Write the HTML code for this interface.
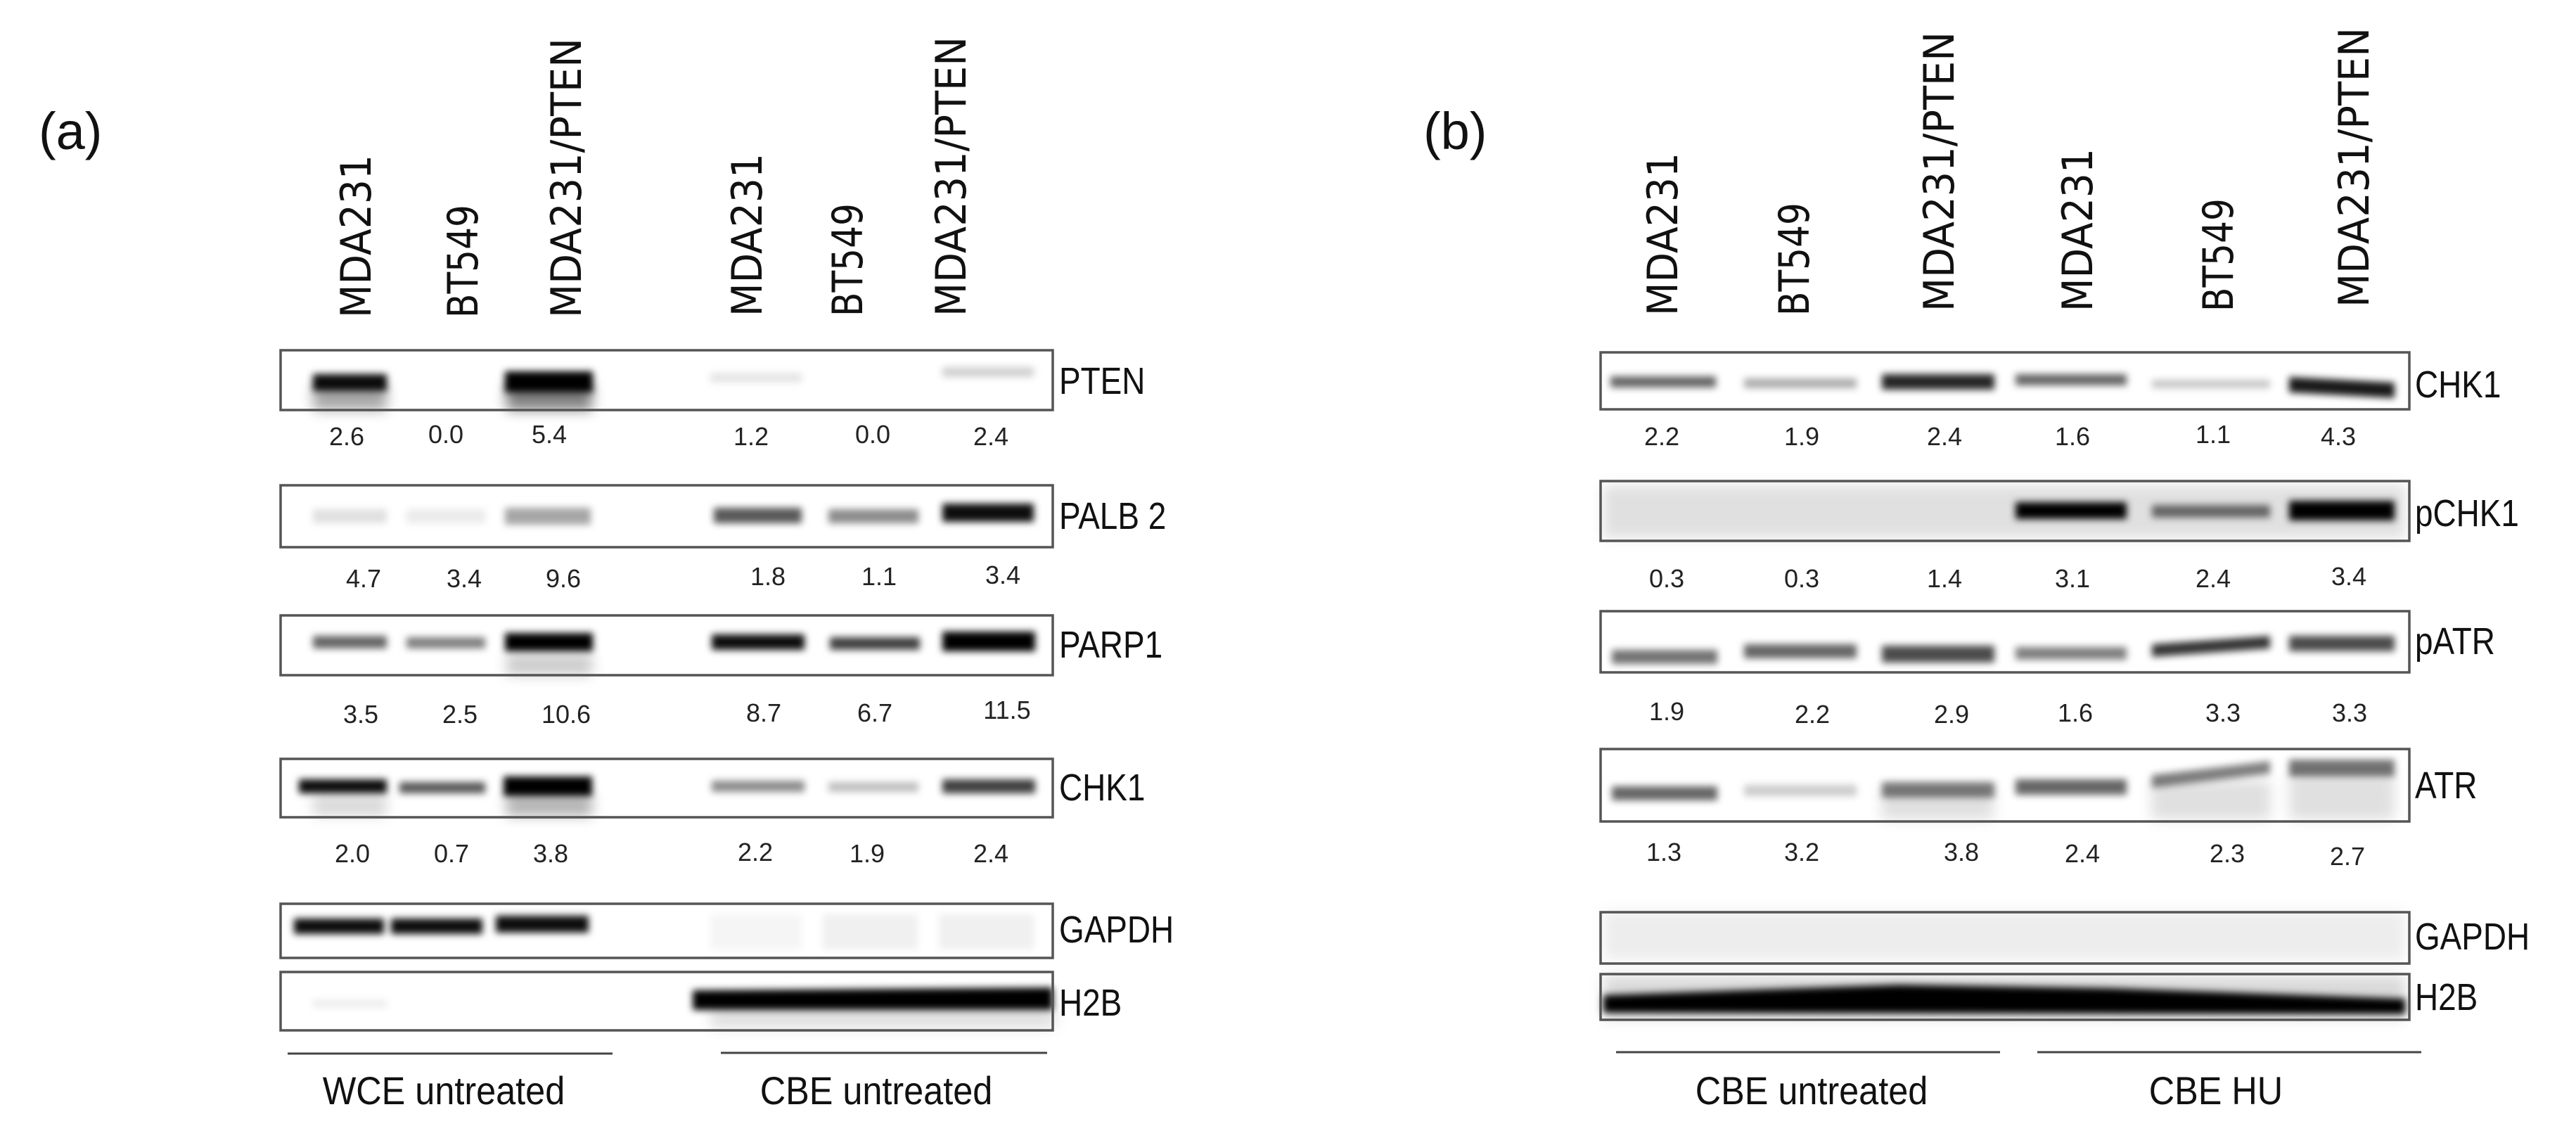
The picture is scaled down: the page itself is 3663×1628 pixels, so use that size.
<!DOCTYPE html>
<html><head><meta charset="utf-8"><style>html,body{margin:0;padding:0;background:#fff}svg{display:block}</style></head><body>
<svg width="3663" height="1628" viewBox="0 0 3663 1628" xmlns="http://www.w3.org/2000/svg">
<defs>
<filter id="b" x="-20%" y="-100%" width="140%" height="300%"><feGaussianBlur stdDeviation="5"/></filter>
<filter id="s" x="-20%" y="-100%" width="140%" height="300%"><feGaussianBlur stdDeviation="9"/></filter>
</defs>
<rect width="3663" height="1628" fill="#fff"/>
<g font-family="Liberation Sans, sans-serif" fill="#111">
<text x="55" y="212" font-size="74">(a)</text>
<text x="2024" y="212" font-size="74">(b)</text>
</g>
<!-- lane labels -->
<g font-family="DejaVu Sans, sans-serif" font-size="60" fill="#111" lengthAdjust="spacingAndGlyphs">
<text transform="translate(527,452) rotate(-90)" textLength="232" lengthAdjust="spacingAndGlyphs">MDA231</text>
<text transform="translate(679,452) rotate(-90)" textLength="161" lengthAdjust="spacingAndGlyphs">BT549</text>
<text transform="translate(826,452) rotate(-90)" textLength="398" lengthAdjust="spacingAndGlyphs">MDA231/PTEN</text>
<text transform="translate(1083,450) rotate(-90)" textLength="232" lengthAdjust="spacingAndGlyphs">MDA231</text>
<text transform="translate(1226,450) rotate(-90)" textLength="161" lengthAdjust="spacingAndGlyphs">BT549</text>
<text transform="translate(1373,450) rotate(-90)" textLength="398" lengthAdjust="spacingAndGlyphs">MDA231/PTEN</text>
<text transform="translate(2385,449) rotate(-90)" textLength="232" lengthAdjust="spacingAndGlyphs">MDA231</text>
<text transform="translate(2572,449) rotate(-90)" textLength="161" lengthAdjust="spacingAndGlyphs">BT549</text>
<text transform="translate(2778,443) rotate(-90)" textLength="398" lengthAdjust="spacingAndGlyphs">MDA231/PTEN</text>
<text transform="translate(2975,443) rotate(-90)" textLength="232" lengthAdjust="spacingAndGlyphs">MDA231</text>
<text transform="translate(3175,443) rotate(-90)" textLength="161" lengthAdjust="spacingAndGlyphs">BT549</text>
<text transform="translate(3368,437) rotate(-90)" textLength="398" lengthAdjust="spacingAndGlyphs">MDA231/PTEN</text>
</g>

<!-- PANEL A bands -->
<g filter="url(#s)">
<rect x="445" y="545" width="105" height="38" fill="#000" opacity="0.35"/>
<rect x="720" y="545" width="122" height="38" fill="#000" opacity="0.5"/>
<rect x="720" y="930" width="122" height="30" fill="#000" opacity="0.2"/>
<rect x="445" y="1130" width="105" height="30" fill="#000" opacity="0.15"/>
<rect x="720" y="1130" width="122" height="30" fill="#000" opacity="0.3"/>
<rect x="1010" y="1432" width="490" height="30" fill="#000" opacity="0.12"/>
</g>
<g filter="url(#b)">
<rect x="445" y="532" width="105" height="24" fill="#000" opacity="0.95"/>
<rect x="718" y="528" width="125" height="30" fill="#000" opacity="1"/>
<rect x="1010" y="530" width="130" height="14" fill="#000" opacity="0.1"/>
<rect x="1340" y="522" width="130" height="14" fill="#000" opacity="0.18"/>
<rect x="445" y="724" width="105" height="20" fill="#000" opacity="0.12"/>
<rect x="578" y="724" width="112" height="20" fill="#000" opacity="0.08"/>
<rect x="718" y="722" width="122" height="24" fill="#000" opacity="0.35"/>
<rect x="1015" y="722" width="125" height="22" fill="#000" opacity="0.65"/>
<rect x="1178" y="724" width="128" height="20" fill="#000" opacity="0.45"/>
<rect x="1340" y="716" width="130" height="26" fill="#000" opacity="0.95"/>
<rect x="445" y="904" width="105" height="18" fill="#000" opacity="0.6"/>
<rect x="578" y="906" width="112" height="16" fill="#000" opacity="0.5"/>
<rect x="718" y="900" width="125" height="26" fill="#000" opacity="1"/>
<rect x="1012" y="902" width="132" height="22" fill="#000" opacity="0.95"/>
<rect x="1180" y="906" width="128" height="18" fill="#000" opacity="0.75"/>
<rect x="1340" y="898" width="132" height="28" fill="#000" opacity="1"/>
<rect x="425" y="1108" width="125" height="20" fill="#000" opacity="0.95"/>
<rect x="568" y="1112" width="122" height="16" fill="#000" opacity="0.65"/>
<rect x="716" y="1104" width="126" height="28" fill="#000" opacity="1"/>
<rect x="1012" y="1110" width="132" height="16" fill="#000" opacity="0.45"/>
<rect x="1178" y="1112" width="128" height="14" fill="#000" opacity="0.25"/>
<rect x="1340" y="1108" width="132" height="20" fill="#000" opacity="0.75"/>
<rect x="418" y="1306" width="128" height="22" fill="#000" opacity="0.95"/>
<rect x="556" y="1306" width="130" height="22" fill="#000" opacity="0.95"/>
<rect x="705" y="1302" width="132" height="24" fill="#000" opacity="0.95"/>
<rect x="1010" y="1300" width="130" height="50" fill="#000" opacity="0.04"/>
<rect x="1170" y="1300" width="135" height="50" fill="#000" opacity="0.06"/>
<rect x="1335" y="1300" width="135" height="50" fill="#000" opacity="0.06"/>
<rect x="445" y="1422" width="105" height="10" fill="#000" opacity="0.08"/>
<path d="M985 1408 L1497 1404 L1497 1436 L985 1436 Z" fill="#000" opacity="1"/>
</g>
<g fill="none" stroke="#555" stroke-width="3.5">
<rect x="399" y="498" width="1098" height="85"/>
<rect x="399" y="690" width="1098" height="88"/>
<rect x="399" y="875" width="1098" height="85"/>
<rect x="399" y="1079" width="1098" height="83"/>
<rect x="399" y="1285" width="1098" height="77"/>
<rect x="399" y="1382" width="1098" height="83"/>
</g>
<g font-family="Liberation Sans, sans-serif" font-size="54" fill="#111">
<text x="1506" y="560" transform="translate(1506 0) scale(0.85 1) translate(-1506 0)">PTEN</text>
<text x="1506" y="752" transform="translate(1506 0) scale(0.85 1) translate(-1506 0)">PALB 2</text>
<text x="1506" y="935" transform="translate(1506 0) scale(0.85 1) translate(-1506 0)">PARP1</text>
<text x="1506" y="1138" transform="translate(1506 0) scale(0.85 1) translate(-1506 0)">CHK1</text>
<text x="1506" y="1340" transform="translate(1506 0) scale(0.85 1) translate(-1506 0)">GAPDH</text>
<text x="1506" y="1444" transform="translate(1506 0) scale(0.85 1) translate(-1506 0)">H2B</text>
<text x="3434" y="565" transform="translate(3434 0) scale(0.85 1) translate(-3434 0)">CHK1</text>
<text x="3434" y="748" transform="translate(3434 0) scale(0.85 1) translate(-3434 0)">pCHK1</text>
<text x="3434" y="930" transform="translate(3434 0) scale(0.85 1) translate(-3434 0)">pATR</text>
<text x="3434" y="1135" transform="translate(3434 0) scale(0.85 1) translate(-3434 0)">ATR</text>
<text x="3434" y="1350" transform="translate(3434 0) scale(0.85 1) translate(-3434 0)">GAPDH</text>
<text x="3434" y="1436" transform="translate(3434 0) scale(0.85 1) translate(-3434 0)">H2B</text>
</g>
<g font-family="Liberation Sans, sans-serif" font-size="36" fill="#222" text-anchor="middle">
<text x="493" y="633">2.6</text><text x="634" y="630">0.0</text><text x="781" y="630">5.4</text><text x="1068" y="633">1.2</text><text x="1241" y="630">0.0</text><text x="1409" y="633">2.4</text>
<text x="517" y="835">4.7</text><text x="660" y="835">3.4</text><text x="801" y="835">9.6</text><text x="1092" y="832">1.8</text><text x="1250" y="832">1.1</text><text x="1426" y="830">3.4</text>
<text x="513" y="1028">3.5</text><text x="654" y="1028">2.5</text><text x="805" y="1028">10.6</text><text x="1086" y="1026">8.7</text><text x="1244" y="1026">6.7</text><text x="1432" y="1022">11.5</text>
<text x="501" y="1226">2.0</text><text x="642" y="1226">0.7</text><text x="783" y="1226">3.8</text><text x="1074" y="1224">2.2</text><text x="1233" y="1226">1.9</text><text x="1409" y="1226">2.4</text>
<text x="2363" y="633">2.2</text><text x="2562" y="633">1.9</text><text x="2765" y="633">2.4</text><text x="2947" y="633">1.6</text><text x="3147" y="630">1.1</text><text x="3325" y="633">4.3</text>
<text x="2370" y="835">0.3</text><text x="2562" y="835">0.3</text><text x="2765" y="835">1.4</text><text x="2947" y="835">3.1</text><text x="3147" y="835">2.4</text><text x="3340" y="832">3.4</text>
<text x="2370" y="1024">1.9</text><text x="2577" y="1028">2.2</text><text x="2775" y="1028">2.9</text><text x="2951" y="1026">1.6</text><text x="3161" y="1026">3.3</text><text x="3341" y="1026">3.3</text>
<text x="2366" y="1224">1.3</text><text x="2562" y="1224">3.2</text><text x="2789" y="1224">3.8</text><text x="2961" y="1226">2.4</text><text x="3167" y="1226">2.3</text><text x="3338" y="1230">2.7</text>
</g>
<g stroke="#444" stroke-width="3">
<line x1="409" y1="1498" x2="871" y2="1498"/>
<line x1="1025" y1="1497" x2="1489" y2="1497"/>
<line x1="2298" y1="1496" x2="2844" y2="1496"/>
<line x1="2897" y1="1496" x2="3443" y2="1496"/>
</g>
<g font-family="Liberation Sans, sans-serif" font-size="56" fill="#111" text-anchor="middle">
<text x="631" y="1570" transform="translate(631 0) scale(0.9 1) translate(-631 0)">WCE untreated</text>
<text x="1246" y="1570" transform="translate(1246 0) scale(0.9 1) translate(-1246 0)">CBE untreated</text>
<text x="2576" y="1570" transform="translate(2576 0) scale(0.9 1) translate(-2576 0)">CBE untreated</text>
<text x="3151" y="1570" transform="translate(3151 0) scale(0.9 1) translate(-3151 0)">CBE HU</text>
</g>

<!-- PANEL B bands -->
<g filter="url(#s)">
<rect x="2280" y="690" width="1140" height="75" fill="#000" opacity="0.12"/>
<rect x="2280" y="1295" width="1140" height="70" fill="#000" opacity="0.07"/>
<rect x="2280" y="1388" width="1140" height="60" fill="#000" opacity="0.15"/>
<rect x="2675" y="1120" width="160" height="45" fill="#000" opacity="0.12"/>
<rect x="3059" y="1110" width="170" height="55" fill="#000" opacity="0.12"/>
<rect x="3255" y="1100" width="150" height="65" fill="#000" opacity="0.12"/>
</g>
<g filter="url(#b)">
<rect x="2290" y="535" width="150" height="16" fill="#000" opacity="0.6"/>
<rect x="2480" y="538" width="160" height="14" fill="#000" opacity="0.32"/>
<rect x="2676" y="532" width="160" height="22" fill="#000" opacity="0.85"/>
<rect x="2866" y="532" width="158" height="16" fill="#000" opacity="0.6"/>
<rect x="3060" y="540" width="168" height="12" fill="#000" opacity="0.22"/>
<path d="M3255 536 L3405 544 L3405 566 L3255 558 Z" fill="#000" opacity="0.9"/>
<rect x="2866" y="714" width="158" height="24" fill="#000" opacity="1"/>
<rect x="3060" y="718" width="168" height="18" fill="#000" opacity="0.55"/>
<rect x="3255" y="712" width="150" height="28" fill="#000" opacity="1"/>
<rect x="2292" y="924" width="150" height="20" fill="#000" opacity="0.55"/>
<rect x="2480" y="916" width="160" height="20" fill="#000" opacity="0.6"/>
<rect x="2676" y="918" width="160" height="24" fill="#000" opacity="0.7"/>
<rect x="2866" y="920" width="158" height="18" fill="#000" opacity="0.5"/>
<path d="M3060 916 L3228 904 L3228 922 L3060 934 Z" fill="#000" opacity="0.8"/>
<rect x="3255" y="904" width="150" height="22" fill="#000" opacity="0.7"/>
<rect x="2292" y="1118" width="150" height="20" fill="#000" opacity="0.6"/>
<rect x="2480" y="1116" width="160" height="16" fill="#000" opacity="0.2"/>
<rect x="2676" y="1112" width="160" height="22" fill="#000" opacity="0.5"/>
<rect x="2866" y="1108" width="158" height="22" fill="#000" opacity="0.6"/>
<path d="M3060 1102 L3228 1082 L3228 1100 L3060 1120 Z" fill="#000" opacity="0.5"/>
<rect x="3255" y="1080" width="150" height="24" fill="#000" opacity="0.55"/>
<path d="M2280 1415 L2700 1400 L3000 1405 L3420 1420 L3420 1442 L2280 1440 Z" fill="#000" opacity="1"/>
</g>
<g fill="none" stroke="#555" stroke-width="3.5">
<rect x="2276" y="501" width="1150" height="81"/>
<rect x="2276" y="684" width="1150" height="85"/>
<rect x="2276" y="869" width="1150" height="87"/>
<rect x="2276" y="1065" width="1150" height="103"/>
<rect x="2276" y="1297" width="1150" height="73"/>
<rect x="2276" y="1385" width="1150" height="65"/>
</g>
</svg>
</body></html>
